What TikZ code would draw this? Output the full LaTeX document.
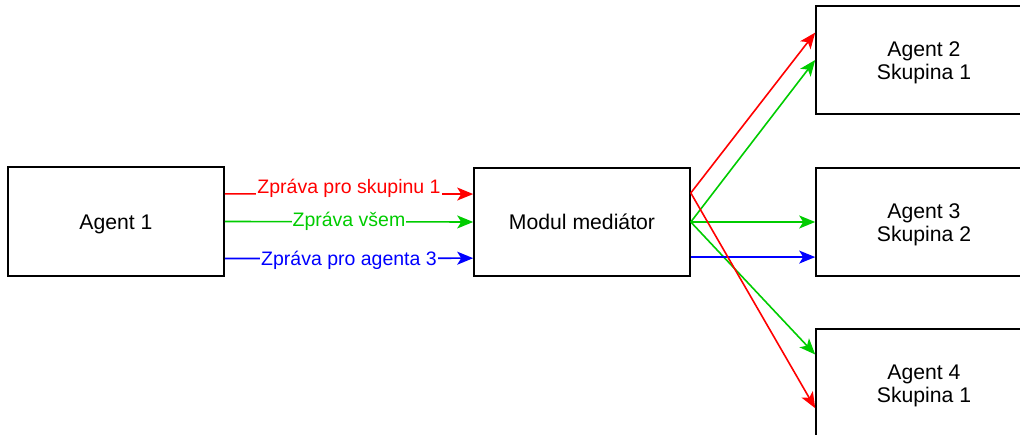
\documentclass[tikz,border=0pt]{standalone}
\usepackage{fontspec}
\setmainfont{Liberation Sans}
\usetikzlibrary{arrows.meta,calc}
\definecolor{msgred}{HTML}{FF0000}
\definecolor{msggreen}{HTML}{00CC00}
\definecolor{msgblue}{HTML}{0000FF}
% two centred lines, baseline on the last one
\newcommand{\twolines}[2]{\begin{tabular}[b]{@{}c@{}}#1\\#2\end{tabular}}
\begin{document}
\begin{tikzpicture}[x=1pt,y=-1pt,
  box/.style={draw=black, line width=1.6pt, fill=white, minimum width=216pt,
    minimum height=108pt, inner sep=0pt, text height=15.2pt, text depth=0pt,
    font=\fontsize{21.2}{23}\selectfont},
  box2/.style={box, text height=38.2pt},
  msg/.style={line width=1.6pt, -{Stealth[length=16pt,width=13pt,inset=4pt]}},
  lbl/.style={fill=white, inner xsep=1pt, inner ysep=0pt,
    font=\fontsize{19.5}{23}\selectfont},
]
\useasboundingbox (0,0) rectangle (1020,435);

% agents and the mediator
\node[box, minimum height=109pt] (a1) at (116,221.5) {Agent 1};
\node[box] (med) at (582,222) {Modul mediátor};
\node[box2] (a2) at (924,60) {\twolines{Agent 2}{Skupina 1}};
\node[box2] (a3) at (924,222) {\twolines{Agent 3}{Skupina 2}};
\node[box2] (a4) at (924,383) {\twolines{Agent 4}{Skupina 1}};

% connection points on the box sides
\coordinate (a1r) at ($(a1.north east)!0.25!(a1.south east)$);
\coordinate (a1g) at (a1.east);
\coordinate (a1b) at ($(a1.north east)!0.835!(a1.south east)$);
\coordinate (mir) at ($(med.north west)!0.245!(med.south west)$);
\coordinate (mig) at (med.west);
\coordinate (mib) at ($(med.north west)!0.83!(med.south west)$);
\coordinate (mor) at ($(med.north east)!0.235!(med.south east)$);
\coordinate (mog) at (med.east);
\coordinate (mob) at ($(med.north east)!0.82!(med.south east)$);
\coordinate (a2r) at ($(a2.north west)!0.25!(a2.south west)$);
\coordinate (a2g) at (a2.west);
\coordinate (a3g) at (a3.west);
\coordinate (a3b) at ($(a3.north west)!0.82!(a3.south west)$);
\coordinate (a4g) at ($(a4.north west)!0.24!(a4.south west)$);
\coordinate (a4r) at ($(a4.north west)!0.73!(a4.south west)$);

% messages from Agent 1 to the mediator
\draw[msg, msggreen] (a1g) -- node[lbl, text=msggreen] {Zpráva všem} (mig);
\draw[msg, msgblue] (a1b) -- node[lbl, text=msgblue, yshift=-1.5pt] {Zpráva pro agenta 3} (mib);
\draw[msg, msgred] (a1r) -- node[lbl, text=msgred, yshift=6pt] {Zpráva pro skupinu 1} (mir);

% distribution by the mediator
\draw[msg, msggreen] (mog) -- (a2g);
\draw[msg, msggreen] (mog) -- (a3g);
\draw[msg, msggreen] (mog) -- (a4g);
\draw[msg, msgblue] (mob) -- (a3b);
\draw[msg, msgred] (mor) -- (a2r);
\draw[msg, msgred] (mor) -- (a4r);
\end{tikzpicture}
\end{document}
